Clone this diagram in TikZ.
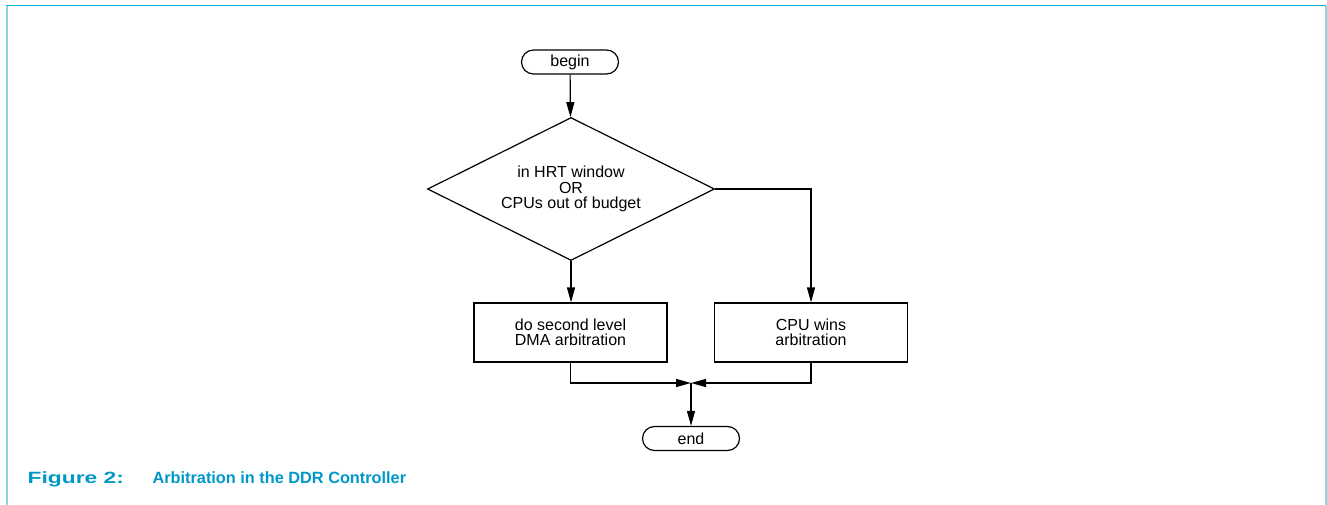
\documentclass[tikz,border=0pt]{standalone}
\usepackage{fontspec}
\setmainfont{Liberation Sans}
\usepackage{xcolor}
\usetikzlibrary{shapes.geometric,arrows.meta}

\definecolor{framecyan}{HTML}{00AEDB}
\definecolor{framelight}{HTML}{88D4E8}
\definecolor{captionblue}{HTML}{0098C8}

\begin{document}
\begin{tikzpicture}[
            x=1pt, y=-1pt,
            line width=1.2pt,
            terminal/.style={rectangle, draw, rounded corners=12pt, minimum height=24pt, minimum width=97pt, inner sep=0pt, font=\fontsize{16}{15.5}\selectfont},
            decision/.style={diamond, draw, aspect=2, minimum width=287pt, minimum height=143pt, inner sep=1pt, align=center, font=\fontsize{16}{15.5}\selectfont},
            process/.style={rectangle, draw, minimum height=59pt, minimum width=193pt, align=center, font=\fontsize{16}{15.5}\selectfont},
            arrow/.style={-{Triangle[length=15pt, width=8pt]}, line width=1.2pt},
            caption/.style={anchor=base west, inner sep=0pt, text=captionblue, font=\fontsize{16.3}{18}\selectfont\bfseries}
        ]
        \useasboundingbox (0,0) rectangle (1327,505);

        % Frame
        \draw[framecyan, line width=1pt] (6,6) -- (1326,6);
        \draw[framelight, line width=1.8pt] (7,6) -- (7,505);
        \draw[framelight, line width=1.8pt] (1326,6) -- (1326,505);

        % Flow
        \node[terminal] (begin) at (570,62) {begin};
        \node[decision] (test) at (571,189) {in HRT window\\OR\\CPUs out of budget};
        \node[process] (dma) at (570.5,332.5) {do second level\\DMA arbitration};
        \node[process] (cpu) at (811,332.5) {CPU wins\\arbitration};
        \node[terminal] (end) at (691,438.5) {end};
        \coordinate (join) at (691,383);

        % Arrows
        \draw[arrow] (begin) -- (test);
        \draw[arrow] (test.south) -- (test.south |- dma.north);
        \draw[arrow] (test.east) -| (cpu.north);
        \draw[arrow] (dma.south) |- (join);
        \draw[arrow] (cpu.south) |- (join);
        \draw[arrow] (join) -- (end);

        % Caption
        \node[caption] (fig) at (27,483) {\scalebox{1.4}[1]{Figure 2:}};
        \node[caption] (title) at (152,483) {Arbitration in the DDR Controller};

        \end{tikzpicture}
\end{document}
